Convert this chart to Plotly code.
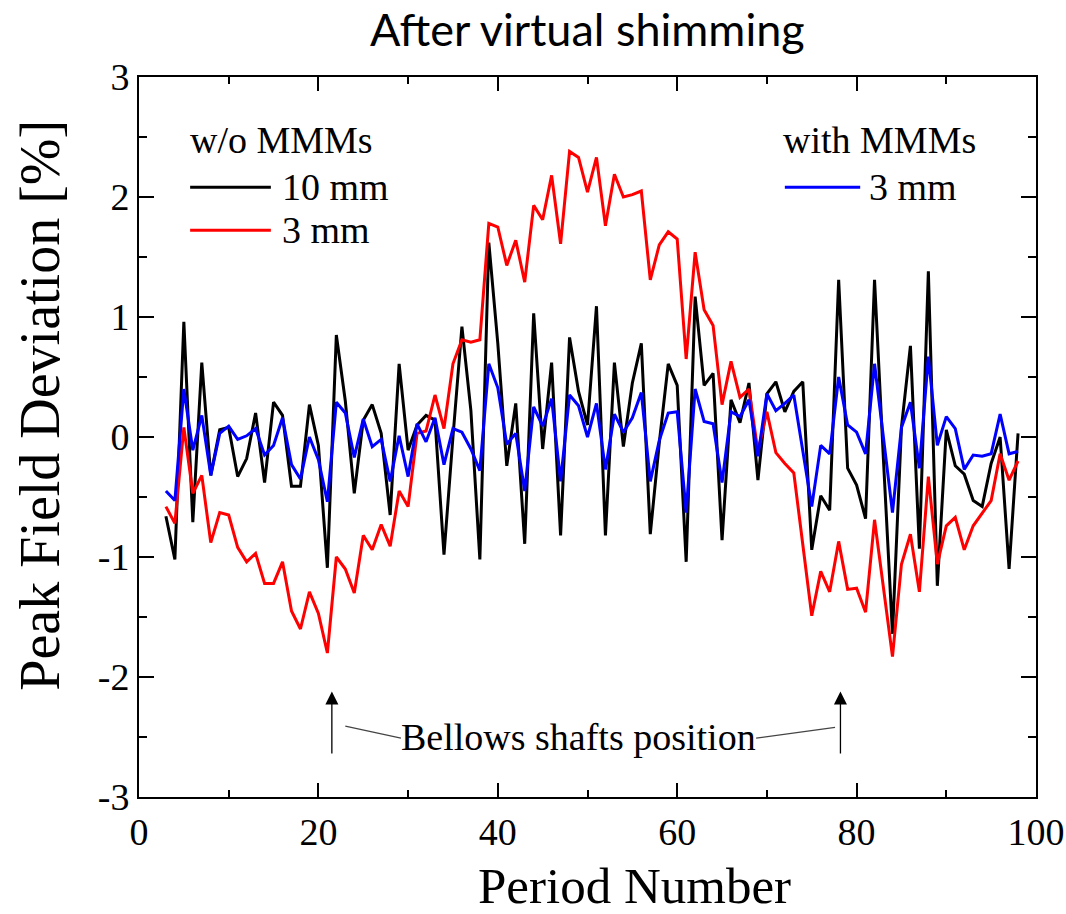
import plotly.graph_objects as go

period = list(range(3, 99))

wo_10mm = [-0.66, -1.02, 0.96, -0.71, 0.62, -0.32, 0.06, 0.08, -0.33, -0.18,
           0.20, -0.38, 0.29, 0.18, -0.41, -0.41, 0.27, -0.07, -1.09, 0.85,
           0.30, -0.47, 0.14, 0.27, 0.03, -0.65, 0.61, -0.11, 0.10, 0.18,
           0.14, -0.98, 0.00, 0.92, 0.22, -1.02, 1.62, 0.78, -0.24, 0.28,
           -0.89, 1.03, -0.10, 0.62, -0.82, 0.83, 0.38, 0.10, 1.09, -0.82,
           0.62, -0.08, 0.45, 0.78, -0.81, -0.05, 0.61, 0.43, -1.04, 1.17,
           0.43, 0.53, -0.86, 0.31, 0.12, 0.45, -0.36, 0.36, 0.46, 0.21,
           0.38, 0.46, -0.94, -0.49, -0.61, 1.31, -0.26, -0.40, -0.68, 1.31,
           -0.20, -1.64, 0.08, 0.76, -0.93, 1.38, -1.24, 0.06, -0.24, -0.31,
           -0.53, -0.58, -0.22, 0.00, -1.10, 0.03]

wo_3mm = [-0.58, -0.72, 0.08, -0.47, -0.32, -0.88, -0.63, -0.65, -0.92, -1.04,
          -0.97, -1.22, -1.22, -1.04, -1.45, -1.60, -1.29, -1.47, -1.80, -1.00,
          -1.10, -1.30, -0.82, -0.94, -0.73, -0.91, -0.45, -0.58, 0.03, 0.05,
          0.35, 0.07, 0.61, 0.81, 0.79, 0.81, 1.78, 1.75, 1.43, 1.64,
          1.29, 1.93, 1.81, 2.18, 1.61, 2.38, 2.33, 2.04, 2.33, 1.76,
          2.19, 2.00, 2.02, 2.05, 1.31, 1.60, 1.71, 1.65, 0.65, 1.54,
          1.06, 0.93, 0.27, 0.63, 0.33, 0.40, -0.12, 0.21, -0.13, -0.22,
          -0.30, -0.88, -1.49, -1.12, -1.29, -0.87, -1.27, -1.26, -1.46, -0.69,
          -1.25, -1.83, -1.06, -0.81, -1.29, -0.33, -1.06, -0.74, -0.67, -0.94,
          -0.74, -0.63, -0.53, -0.14, -0.36, -0.20]

with_3mm = [-0.45, -0.53, 0.40, -0.11, 0.18, -0.32, 0.03, 0.09, -0.02, 0.01,
            0.07, -0.15, -0.07, 0.16, -0.23, -0.35, 0.00, -0.19, -0.54, 0.29,
            0.20, -0.17, 0.15, -0.08, -0.02, -0.37, 0.01, -0.33, 0.11, -0.04,
            0.16, -0.23, 0.07, 0.04, -0.10, -0.28, 0.61, 0.41, -0.06, 0.03,
            -0.45, 0.25, 0.09, 0.32, -0.37, 0.35, 0.26, 0.00, 0.28, -0.27,
            0.19, 0.04, 0.16, 0.37, -0.37, -0.03, 0.20, 0.21, -0.63, 0.40,
            0.13, 0.11, -0.38, 0.21, 0.17, 0.31, -0.16, 0.36, 0.22, 0.28,
            0.35, -0.11, -0.58, -0.07, -0.14, 0.50, 0.10, 0.04, -0.14, 0.61,
            0.00, -0.63, 0.08, 0.29, -0.26, 0.67, -0.07, 0.17, 0.07, -0.27,
            -0.15, -0.16, -0.14, 0.19, -0.14, -0.12]

x_tickvals = [0, 20, 40, 60, 80, 100]
x_ticktext = ["0", "20", "40", "60", "80", "100"]
y_tickvals = [-3, -2, -1, 0, 1, 2, 3]
y_ticktext = ["-3", "-2", "-1", "0", "1", "2", "3"]

bellows_positions = [21.5, 78.2]

SERIF = "Liberation Serif, Times New Roman, serif"

fig = go.Figure()
fig.add_trace(go.Scatter(x=period, y=wo_10mm, mode="lines", name="10 mm (w/o MMMs)",
                         line=dict(color="black", width=3), showlegend=False))
fig.add_trace(go.Scatter(x=period, y=wo_3mm, mode="lines", name="3 mm (w/o MMMs)",
                         line=dict(color="#ff0000", width=3), showlegend=False))
fig.add_trace(go.Scatter(x=period, y=with_3mm, mode="lines", name="3 mm (with MMMs)",
                         line=dict(color="#0000ff", width=3), showlegend=False))

axis_common = dict(
    showline=True, linecolor="black", linewidth=2, mirror="ticks",
    ticks="inside", tickcolor="black", tickwidth=2,
    showgrid=False, zeroline=False, automargin=False,
    tickfont=dict(family=SERIF, size=38, color="black"),
)

fig.update_xaxes(range=[0, 100], tickmode="array", tickvals=x_tickvals, ticktext=x_ticktext,
                 ticklen=14,
                 minor=dict(tick0=0, dtick=10, ticks="inside", ticklen=7, tickcolor="black", tickwidth=2),
                 **axis_common)
fig.update_yaxes(range=[-3, 3], tickmode="array", tickvals=y_tickvals, ticktext=y_ticktext,
                 ticklen=15,
                 minor=dict(tick0=0, dtick=0.5, ticks="inside", ticklen=8, tickcolor="black", tickwidth=2),
                 **axis_common)

legend_font = dict(family=SERIF, size=38, color="black")
shapes = [
    dict(type="line", xref="paper", yref="paper", x0=0.057, x1=0.147, y0=0.847, y1=0.847,
         line=dict(color="black", width=3)),
    dict(type="line", xref="paper", yref="paper", x0=0.057, x1=0.147, y0=0.787, y1=0.787,
         line=dict(color="#ff0000", width=3)),
    dict(type="line", xref="paper", yref="paper", x0=0.72, x1=0.804, y0=0.847, y1=0.847,
         line=dict(color="#0000ff", width=3)),
    dict(type="line", xref="x", yref="y", x0=23.0, y0=-2.41, x1=29.2, y1=-2.51,
         line=dict(color="#444444", width=1.2)),
    dict(type="line", xref="x", yref="y", x0=68.8, y0=-2.51, x1=77.6, y1=-2.42,
         line=dict(color="#444444", width=1.2)),
]
annotations = [
    dict(text="w/o MMMs", xref="paper", yref="paper", x=0.055, y=0.912, xanchor="left",
         yanchor="middle", showarrow=False, font=legend_font),
    dict(text="10 mm", xref="paper", yref="paper", x=0.157, y=0.847, xanchor="left",
         yanchor="middle", showarrow=False, font=legend_font),
    dict(text="3 mm", xref="paper", yref="paper", x=0.157, y=0.787, xanchor="left",
         yanchor="middle", showarrow=False, font=legend_font),
    dict(text="with MMMs", xref="paper", yref="paper", x=0.716, y=0.912, xanchor="left",
         yanchor="middle", showarrow=False, font=legend_font),
    dict(text="3 mm", xref="paper", yref="paper", x=0.812, y=0.847, xanchor="left",
         yanchor="middle", showarrow=False, font=legend_font),
    dict(text="Bellows shafts position", xref="x", yref="y", x=49.0, y=-2.50,
         xanchor="center", yanchor="middle", showarrow=False, font=legend_font),
    # axis titles
    dict(text="Period Number", xref="paper", yref="paper", x=0.552, y=-0.123,
         xanchor="center", yanchor="middle", showarrow=False,
         font=dict(family=SERIF, size=51, color="black")),
    dict(text="Peak Field Deviation [%]", xref="paper", yref="paper", x=-0.11, y=0.544,
         xanchor="center", yanchor="middle", showarrow=False, textangle=-90,
         font=dict(family=SERIF, size=56, color="black")),
]
for bx in bellows_positions:
    annotations.append(dict(text="", xref="x", yref="y", x=bx, y=-2.12,
                            axref="x", ayref="y", ax=bx, ay=-2.65,
                            showarrow=True, arrowhead=2, arrowsize=2, arrowwidth=1.3,
                            arrowcolor="black"))

fig.update_layout(
    width=1066, height=914,
    margin=dict(l=139, r=30, t=77, b=117),
    paper_bgcolor="white", plot_bgcolor="white",
    title=dict(text="After virtual shimming", x=0.551, xanchor="center",
               y=1 - 30 / 914, yanchor="middle", yref="container",
               font=dict(family="Lato, Carlito, Calibri, sans-serif", size=45, color="black")),
    shapes=shapes, annotations=annotations, showlegend=False,
)

fig.write_html("out.html")
